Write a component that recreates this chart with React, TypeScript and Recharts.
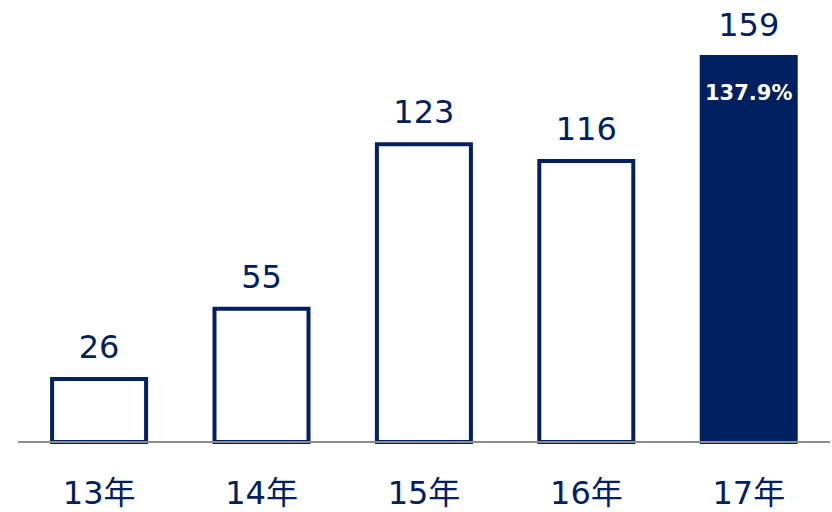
import React from 'react';
import { BarChart, Bar, XAxis, YAxis, Cell, LabelList, ReferenceLine } from 'recharts';

const categories = ['13年', '14年', '15年', '16年', '17年'];
const values = [26, 55, 123, 116, 159];
const growthLabels = ['', '', '', '', '137.9%'];
const highlighted = [false, false, false, false, true];

const NAVY = '#002060';
const FONT = '"DejaVu Sans", "Noto Sans CJK JP", sans-serif';

const data = categories.map((c, i) => ({
  name: c,
  value: values[i],
  growth: growthLabels[i],
}));

export default function App() {
  return (
    <div style={{ position: 'absolute', left: 0, top: 0, width: 832, height: 512, background: '#fff' }}>
      <BarChart
        width={832}
        height={512}
        data={data}
        margin={{ top: 57, right: 2, bottom: 0, left: 18 }}
        barCategoryGap="21%"
      >
        <XAxis
          dataKey="name"
          height={70}
          axisLine={false}
          tickLine={false}
          tickSize={0}
          tickMargin={39}
          tick={{ fill: NAVY, fontSize: 32, fontFamily: FONT }}
          interval={0}
        />
        <YAxis hide domain={[0, 159]} />
        <Bar dataKey="value" isAnimationActive={false} strokeWidth={4} stroke={NAVY}>
          {data.map((d, i) => (
            <Cell key={d.name} fill={highlighted[i] ? NAVY : '#ffffff'} stroke={NAVY} />
          ))}
          <LabelList
            dataKey="value"
            position="top"
            offset={21}
            fill={NAVY}
            fontSize={32}
            fontFamily={FONT}
          />
          <LabelList
            dataKey="growth"
            position="insideTop"
            offset={28}
            fill="#ffffff"
            fontSize={21}
            fontWeight="bold"
            fontFamily={FONT}
          />
        </Bar>
        <ReferenceLine y={0} stroke="#8c8c8c" strokeWidth={2} />
      </BarChart>
    </div>
  );
}
